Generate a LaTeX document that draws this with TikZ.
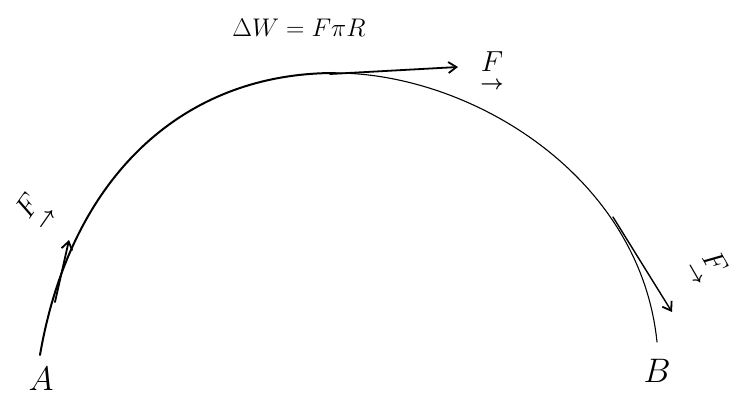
\RequirePackage{fix-cm}
\documentclass[tikz,border=0pt]{standalone}
\usepackage{amsmath, amssymb, bm}
\usetikzlibrary{arrows.meta, positioning, calc}
\newcommand{\fvec}{\underset{\lower1pt\hbox{$\scriptstyle\bm{\rightarrow}$}}{F}}

\begin{document}
\begin{tikzpicture}[
  x=1pt, y=-1pt,
  path/.style={draw, line width=2pt, line cap=round},
  thinpath/.style={draw, line width=1.1pt, line cap=round},
  force/.style={draw, line width=1.8pt, line cap=round, -{Straight Barb[length=8pt, width=11pt, line width=1.8pt]}},
  pt/.style={font=\fontsize{34}{36}\selectfont, inner sep=1pt},
  flabel/.style={font=\fontsize{29}{31}\selectfont, inner sep=0pt}
]
  \useasboundingbox (0,0) rectangle (731,406);
  % formula
  \node[font=\fontsize{25.5}{28}\selectfont] (work) at (299, 28) {$\Delta W = F\pi R$};
  % arc from A over the top to B
  \coordinate (a) at (40, 355);
  \coordinate (top) at (335, 73);
  \coordinate (b) at (657, 342);
  \draw[path] (a) .. controls (70, 180) and (180, 73) .. (top);
  \draw[thinpath] (top) .. controls (470, 73) and (640, 175) .. (b);
  \node[pt] (lblA) at (41, 379) {$A$};
  \node[pt] (lblB) at (657, 371) {$B$};
  % force at the start
  \coordinate (f1s) at (55, 302);
  \coordinate (f1e) at (69, 240);
  \draw[force] (f1s) -- (f1e);
  \node[flabel, rotate=55] (F1) at (36, 212) {$\fvec$};
  % force at the top
  \coordinate (f2s) at (330, 74);
  \coordinate (f2e) at (458, 67);
  \draw[force] (f2s) -- (f2e);
  \node[flabel] (F2) at (492, 72) {$\fvec$};
  % force near the end
  \coordinate (f3s) at (613, 217);
  \coordinate (f3e) at (672, 312);
  \draw[force, line width=1.4pt] (f3s) -- (f3e);
  \node[flabel, rotate=-60] (F3) at (706, 268) {$\fvec$};
\end{tikzpicture}
\end{document}
